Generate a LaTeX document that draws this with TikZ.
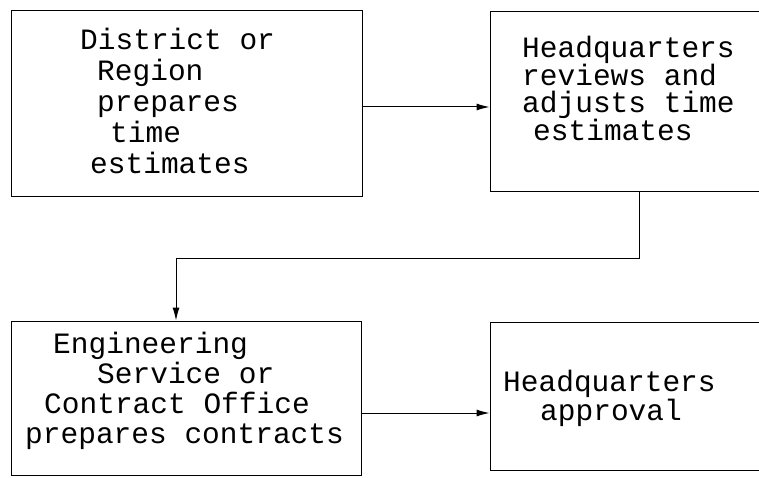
\documentclass[tikz,border=0pt]{standalone}
\usepackage{fontspec}
\newfontfamily\typefont{Liberation Mono}
\usetikzlibrary{arrows.meta,calc}

\tikzset{
  stagebox/.style={draw, line width=1pt, inner sep=0pt},
  stagetext/.style={inner sep=0pt, anchor=north west, align=left},
  flow/.style={line width=1pt, -{Latex[length=13pt,width=7pt]}}
}

\begin{document}
\begin{tikzpicture}[x=1pt,y=1pt,font=\typefont\fontsize{29.5}{31}\selectfont]
  \useasboundingbox (0,0) rectangle (759,477);
  \clip (0,0) rectangle (759,477);

  % boxes
  \node[stagebox, minimum width=351pt, minimum height=186pt] (dist) at (186.5,373) {};
  \node[stagebox, minimum width=280pt, minimum height=180pt] (hq)   at (630,375) {};
  \node[stagebox, minimum width=350pt, minimum height=154pt] (eng)  at (186,79) {};
  \node[stagebox, minimum width=280pt, minimum height=148pt] (appr) at (630,81) {};

  % texts, typed with spaces in the original
  \node[stagetext] (distText) at (80,449) {District or\\
    \hspace*{17pt}Region\\
    \hspace*{17pt}prepares\\
    \hspace*{30pt}time\\
    \hspace*{10pt}estimates};
  \node[stagetext, font=\typefont\fontsize{29.5}{27.5}\selectfont] (hqText) at (522,441) {Headquarters\\
    reviews and\\
    adjusts time\\
    \hspace*{11pt}estimates};
  \node[stagetext, font=\typefont\fontsize{29.5}{30}\selectfont] (engText) at (25,145) {\hspace*{28pt}Engineering\\
    \hspace*{72pt}Service or\\
    \hspace*{19pt}Contract Office\\
    prepares contracts};
  \node[stagetext, font=\typefont\fontsize{29.5}{29}\selectfont] (apprText) at (503,107) {Headquarters\\
    \hspace*{37pt}approval};

  % connectors
  \coordinate (turn) at (176,219);
  \draw[flow] ([yshift=-3pt]dist.east) -- ([yshift=-3pt]dist.east -| hq.west);
  \draw[flow] ([xshift=9pt]hq.south) |- (turn) -- (turn |- eng.north);
  \draw[flow] ([yshift=-15pt]eng.east) -- ([yshift=-15pt]eng.east -| appr.west);
\end{tikzpicture}
\end{document}
